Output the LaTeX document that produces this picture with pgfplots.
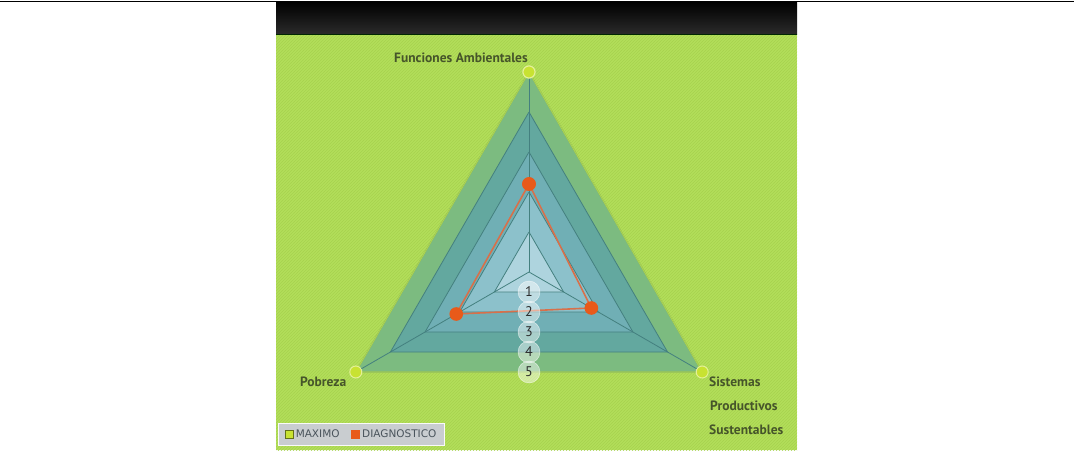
\documentclass[border=0pt]{standalone}
\usepackage{pgfplots}
\pgfplotsset{compat=1.18}
\usepgfplotslibrary{polar}
\usetikzlibrary{patterns}
\usepackage{fontspec}
\setmainfont{PT Sans}
\newfontfamily\legfont{DejaVu Sans}
\definecolor{bg}{HTML}{B3DE5A}
\definecolor{stripe}{HTML}{A6D24E}
\definecolor{hdr}{HTML}{2C2C2C}
\definecolor{cfive}{HTML}{7CBB80}
\definecolor{cfour}{HTML}{63A89F}
\definecolor{cthree}{HTML}{70AFB5}
\definecolor{ctwo}{HTML}{8CC1CB}
\definecolor{cone}{HTML}{AED4DE}
\definecolor{gline}{HTML}{44807F}
\definecolor{orange}{HTML}{E85A1A}
\definecolor{oline}{HTML}{D8704A}
\definecolor{ygreen}{HTML}{C8E232}
\definecolor{lbl}{HTML}{46552A}
\definecolor{legbg}{HTML}{C9CDD0}
\definecolor{legtxt}{HTML}{4A545C}
\begin{document}
\begin{tikzpicture}[x=1pt,y=1pt]
\useasboundingbox (0,0) rectangle (1074,450);
\fill[white] (0,0) rectangle (1074,450);
\fill[bg] (276,0) rectangle (797,415);
\fill[pattern=north east lines, pattern color=stripe] (276,0) rectangle (797,415);
\shade[top color=black, bottom color=hdr] (276,415) rectangle (797,448);
\draw[black!60!green!40!black, line width=1] (276,415) -- (797,415);
\draw[line width=1.5] (0,448.5) -- (1074,448.5);
\begin{polaraxis}[
  at={(529pt,178pt)}, anchor=center,
  scale only axis, width=400pt, height=400pt,
  ymin=0, ymax=5, hide axis, clip=false,
  legend columns=2,
  legend style={at={(-0.128,0.064)}, anchor=south west, fill=legbg, draw=white!90!legbg, line width=1.5pt,
    font=\legfont\fontsize{10.5}{12}\selectfont\color{legtxt}, inner xsep=6pt, inner ysep=4.5pt,
    /tikz/every even column/.append style={column sep=9pt}},
]
\addplot[draw=gline, fill=cfive, line width=0.8pt, forget plot] coordinates {(90,5)(210,5)(330,5)(90,5)};
\addplot[draw=gline, fill=cfour, line width=0.8pt, forget plot] coordinates {(90,4)(210,4)(330,4)(90,4)};
\addplot[draw=gline, fill=cthree, line width=0.8pt, forget plot] coordinates {(90,3)(210,3)(330,3)(90,3)};
\addplot[draw=gline, fill=ctwo, line width=0.8pt, forget plot] coordinates {(90,2)(210,2)(330,2)(90,2)};
\addplot[draw=gline, fill=cone, line width=0.8pt, forget plot] coordinates {(90,1)(210,1)(330,1)(90,1)};
\addplot[draw=gline, line width=0.8pt, forget plot] coordinates {(90,0)(90,5)};
\addplot[draw=gline, line width=0.8pt, forget plot] coordinates {(210,0)(210,5)};
\addplot[draw=gline, line width=0.8pt, forget plot] coordinates {(330,0)(330,5)};
\addplot[draw=ygreen!60!cfive, line width=1.2pt,
  mark=*, mark size=6pt, mark options={fill=ygreen, draw=ygreen!50!white, line width=1pt},
  legend image code/.code={\fill[ygreen, draw=ygreen!50!black] (0pt,-4pt) rectangle (8pt,4pt);}]
  coordinates {(90,5)(210,5)(330,5)(90,5)};
\addlegendentry{MAXIMO}
\addplot[draw=oline, line width=1.6pt,
  mark=*, mark size=6pt, mark options={fill=orange, draw=orange}, 
  legend image code/.code={\fill[orange] (0pt,-4pt) rectangle (8pt,4pt);}]
  coordinates {(90,2.2)(210,2.1)(330,1.8)(90,2.2)};
\addlegendentry{DIAGNOSTICO}
\node[circle, fill=white, fill opacity=0.45, text opacity=1, draw=white, draw opacity=0.7, minimum size=22pt, inner sep=0, font=\fontsize{14}{14}\selectfont, text=hdr] at (axis cs:270,0.5) {1};
\node[circle, fill=white, fill opacity=0.45, text opacity=1, draw=white, draw opacity=0.7, minimum size=22pt, inner sep=0, font=\fontsize{14}{14}\selectfont, text=hdr] at (axis cs:270,1.0) {2};
\node[circle, fill=white, fill opacity=0.45, text opacity=1, draw=white, draw opacity=0.7, minimum size=22pt, inner sep=0, font=\fontsize{14}{14}\selectfont, text=hdr] at (axis cs:270,1.5) {3};
\node[circle, fill=white, fill opacity=0.45, text opacity=1, draw=white, draw opacity=0.7, minimum size=22pt, inner sep=0, font=\fontsize{14}{14}\selectfont, text=hdr] at (axis cs:270,2.0) {4};
\node[circle, fill=white, fill opacity=0.45, text opacity=1, draw=white, draw opacity=0.7, minimum size=22pt, inner sep=0, font=\fontsize{14}{14}\selectfont, text=hdr] at (axis cs:270,2.5) {5};
\end{polaraxis}
\node[anchor=east, text=lbl, font=\bfseries\fontsize{13.5}{13.5}\selectfont, inner sep=0] at (528,392) {Funciones Ambientales};
\node[anchor=west, text=lbl, font=\bfseries\fontsize{13.5}{13.5}\selectfont, inner sep=0] at (300,68) {Pobreza};
\node[anchor=west, text=lbl, font=\bfseries\fontsize{13.5}{13.5}\selectfont, inner sep=0] at (709,68) {Sistemas};
\node[anchor=west, text=lbl, font=\bfseries\fontsize{13.5}{13.5}\selectfont, inner sep=0] at (710,44) {Productivos};
\node[anchor=west, text=lbl, font=\bfseries\fontsize{13.5}{13.5}\selectfont, inner sep=0] at (709,20) {Sustentables};
\end{tikzpicture}
\end{document}
